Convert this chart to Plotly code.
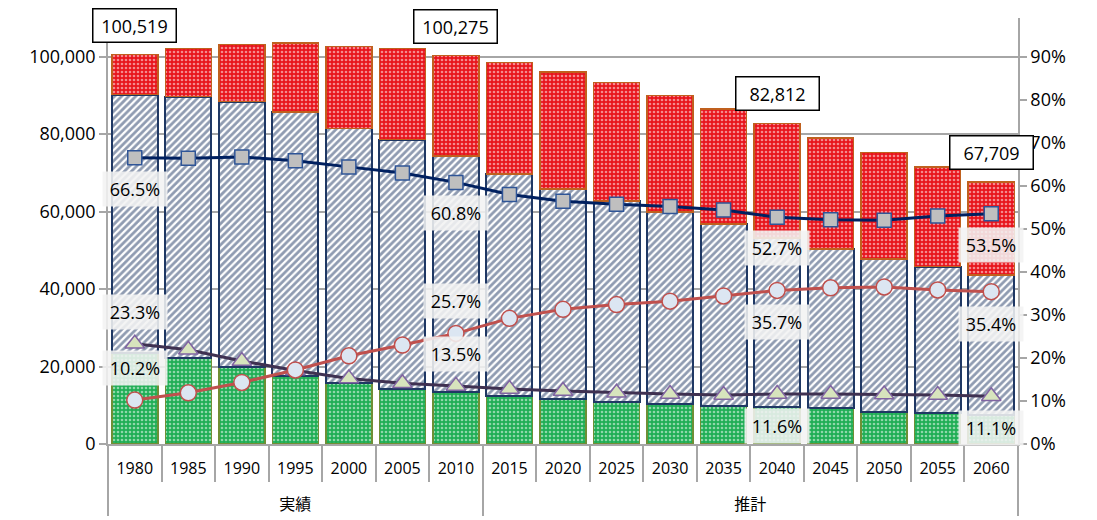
import plotly.graph_objects as go

years = ["1980", "1985", "1990", "1995", "2000", "2005", "2010", "2015", "2020",
         "2025", "2030", "2035", "2040", "2045", "2050", "2055", "2060"]
periods = ["<br>実績"] * 7 + ["<br>推計"] * 10

# population by age group (persons)
pop_0_14 = [23400, 22300, 19800, 17600, 15700, 14200, 13500, 12500, 11600,
            10900, 10300, 9900, 9600, 9200, 8300, 7900, 7500]
pop_15_64 = [66800, 67400, 68600, 68100, 65800, 64400, 60900, 57200, 54200,
             51900, 49600, 46900, 43600, 41100, 39500, 37900, 36200]
pop_65 = [10319, 12400, 14800, 17800, 21200, 23500, 25875, 28800, 30300,
          30600, 30100, 29700, 29612, 28700, 27500, 25700, 24009]

# shares (%)
share_15_64 = [66.5, 66.4, 66.7, 65.8, 64.4, 63.0, 60.8, 58.0, 56.4,
               55.7, 55.2, 54.4, 52.7, 52.1, 52.0, 53.0, 53.5]
share_65 = [10.2, 11.9, 14.3, 17.2, 20.5, 23.0, 25.7, 29.2, 31.3,
            32.4, 33.2, 34.4, 35.7, 36.3, 36.5, 35.8, 35.4]
share_0_14 = [23.3, 21.9, 19.3, 17.1, 15.2, 14.1, 13.5, 12.8, 12.3,
              11.9, 11.6, 11.4, 11.6, 11.6, 11.5, 11.4, 11.1]

label_idx = [0, 6, 12, 16]

x = [periods, years]
totals = [a + b + c for a, b, c in zip(pop_0_14, pop_15_64, pop_65)]

FONT = "Open Sans, Noto Sans CJK JP, sans-serif"

fig = go.Figure()

fig.add_trace(go.Bar(
    x=x, y=pop_0_14, name="0-14",
    marker=dict(color="#1fae55", line=dict(color="#6f8f35", width=1.5),
                pattern=dict(shape=".", fillmode="overlay", fgcolor="white",
                             size=4, solidity=0.35)),
))
fig.add_trace(go.Bar(
    x=x, y=pop_15_64, name="15-64",
    marker=dict(color="white", line=dict(color="#1f3864", width=2),
                pattern=dict(shape="/", fillmode="overlay", fgcolor="#1f3864",
                             size=5, solidity=0.55)),
))
fig.add_trace(go.Bar(
    x=x, y=pop_65, name="65+",
    marker=dict(color="#e8141c", line=dict(color="#c0601e", width=1.5),
                pattern=dict(shape=".", fillmode="overlay", fgcolor="white",
                             size=4, solidity=0.35)),
))

fig.add_trace(go.Scatter(
    x=x, y=[v / 100 for v in share_0_14], yaxis="y2", mode="lines+markers",
    line=dict(color="#3f3151", width=3),
    marker=dict(symbol="triangle-up", size=17, color="#d7e4bd",
                line=dict(color="#8064a2", width=1.5)),
))
fig.add_trace(go.Scatter(
    x=x, y=[v / 100 for v in share_15_64], yaxis="y2", mode="lines+markers",
    line=dict(color="#002060", width=3),
    marker=dict(symbol="square", size=14, color="#bfbfbf",
                line=dict(color="#2f5597", width=1.5)),
))
fig.add_trace(go.Scatter(
    x=x, y=[v / 100 for v in share_65], yaxis="y2", mode="lines+markers",
    line=dict(color="#c0504d", width=3),
    marker=dict(symbol="circle", size=16, color="#dce6f2",
                line=dict(color="#c0504d", width=1.5)),
))

annotations = []
for i in label_idx:
    annotations.append(dict(
        x=i, y=totals[i], xref="x", yref="y", yanchor="bottom", yshift=12,
        text=f"{totals[i]:,}", showarrow=False,
        font=dict(family=FONT, size=18, color="black"),
        bgcolor="white", bordercolor="black", borderwidth=1.5,
        width=80, height=30,
    ))

def pct_label(i, val, shift):
    return dict(
        x=i, y=val / 100, xref="x", yref="y2", yshift=shift,
        text=f"{val:.1f}%", showarrow=False,
        font=dict(family=FONT, size=18, color="black"),
        bgcolor="rgba(242,242,242,0.88)", width=62, height=32,
    )

for i in label_idx:
    annotations.append(pct_label(i, share_15_64[i], -31))
for i in label_idx[:2]:
    annotations.append(pct_label(i, share_65[i], 32))
    annotations.append(pct_label(i, share_0_14[i], 32))
for i in label_idx[2:]:
    annotations.append(pct_label(i, share_65[i], -32))
    annotations.append(pct_label(i, share_0_14[i], -32))

fig.update_layout(
    width=1097, height=520,
    margin=dict(l=108, r=79, t=18, b=76),
    barmode="stack", bargap=0.14,
    plot_bgcolor="white", paper_bgcolor="white",
    showlegend=False,
    font=dict(family=FONT, size=18, color="black"),
    annotations=annotations,
    xaxis=dict(
        type="multicategory", range=[-0.5, 16.5], autorange=False,
        showline=True, linecolor="#a6a6a6", linewidth=1.5,
        ticks="outside", tickson="boundaries", ticklen=36,
        tickcolor="#a6a6a6", tickwidth=1.5,
        ticklabelstandoff=9,
        showdividers=True, dividercolor="#a6a6a6", dividerwidth=1.5,
        tickfont=dict(family=FONT, size=16, color="black"),
        showgrid=False, automargin=False,
    ),
    yaxis=dict(
        range=[0, 110000], tickvals=[0, 20000, 40000, 60000, 80000, 100000],
        tickformat=",d", showgrid=True, gridcolor="#a6a6a6", gridwidth=1.5,
        showline=True, linecolor="#a6a6a6", linewidth=1.5,
        ticks="outside", ticklen=7, tickcolor="#a6a6a6", tickwidth=1.5,
        tickfont=dict(family=FONT, size=18, color="black"),
        zeroline=False, automargin=False,
    ),
    yaxis2=dict(
        overlaying="y", side="right", range=[0, 0.99],
        tickvals=[i / 10 for i in range(10)], tickformat=".0%",
        showgrid=False, zeroline=False,
        showline=True, linecolor="#a6a6a6", linewidth=1.5,
        ticks="outside", ticklen=7, tickcolor="#a6a6a6", tickwidth=1.5,
        tickfont=dict(family=FONT, size=18, color="black"),
        automargin=False,
    ),
)

fig.write_html("out.html", config={"displayModeBar": False},
               post_script="document.body.style.margin='0';")
